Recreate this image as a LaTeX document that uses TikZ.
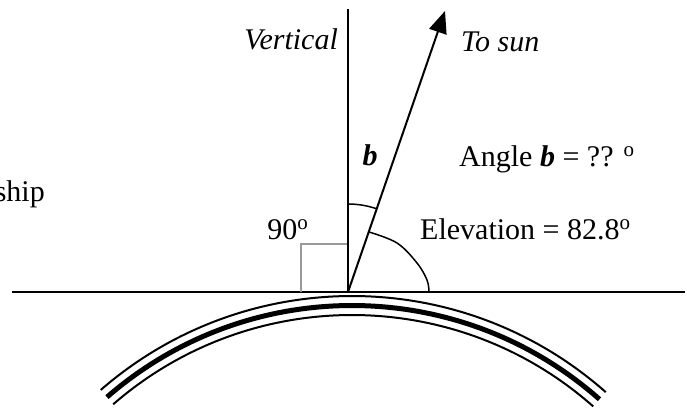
\documentclass[tikz,border=0pt]{standalone}
\usepackage{fontspec}
\setmainfont{Liberation Serif}
\usetikzlibrary{arrows.meta}
\definecolor{sqgray}{gray}{0.6}
\newcommand{\dg}{\raisebox{0.34em}{\fontsize{21}{21}\selectfont o}}
\begin{document}
\begin{tikzpicture}[x=1pt,y=1pt,
  lbl/.style={inner sep=0pt, font=\fontsize{30}{36}\selectfont},
  mainline/.style={line width=2pt, black},
  anglearc/.style={line width=1.5pt, black},
  earththin/.style={line width=2pt, black},
  earththick/.style={line width=5pt, black},
  rightangle/.style={line width=1.6pt, sqgray}]
\useasboundingbox (0,0) rectangle (687,407);
% key points
\coordinate (hl) at (12,115);
\coordinate (hr) at (685,115);
\coordinate (O) at (348,115);
\coordinate (vtop) at (348,398);
\coordinate (sun) at (445,396);
\coordinate (C) at (352,-272);
% earth
\draw[earththin] (C) ++(48.5:383) arc[start angle=48.5, end angle=131, radius=383];
\draw[earththick] (C) ++(48.5:373.5) arc[start angle=48.5, end angle=131, radius=373.5];
\draw[earththin] (C) ++(48.5:364) arc[start angle=48.5, end angle=131, radius=364];
% horizon
\draw[line width=2.2pt] (hl) -- (hr);
% right angle mark
\coordinate (sqa) at (301,115);
\coordinate (sqb) at (301,163);
\coordinate (sqc) at (348,163);
\draw[rightangle] (sqa) -- (sqb) -- (sqc);
% vertical
\draw[mainline] (O) -- (vtop);
% sun direction
\draw[mainline, -{Triangle[length=22pt,width=18pt]}] (O) -- (sun);
% angle b arc
\draw[anglearc] (O) ++(90:88) arc[start angle=90, end angle=71, radius=88];
% elevation arc
\draw[anglearc] plot[smooth, tension=0.6] coordinates {(369,175) (397,164) (417,144) (427,127) (429,115)};
% labels
\node[lbl, anchor=base east] (vert) at (338,357) {\itshape Vertical};
\node[lbl, anchor=base west] (tosun) at (461,355) {\itshape To sun};
\node[lbl, anchor=base] (blbl) at (370,241) {\bfseries\itshape b};
\node[lbl, anchor=base west] (angle) at (459,240) {Angle \textbf{\textit{b}} = ?? \dg};
\node[lbl, anchor=base west] (elev) at (420,167) {Elevation = 82.8\dg};
\node[lbl, anchor=base east] (ninety) at (308,167) {90\dg};
\node[lbl, anchor=base east] (ship) at (45,205) {ship};
\end{tikzpicture}
\end{document}
